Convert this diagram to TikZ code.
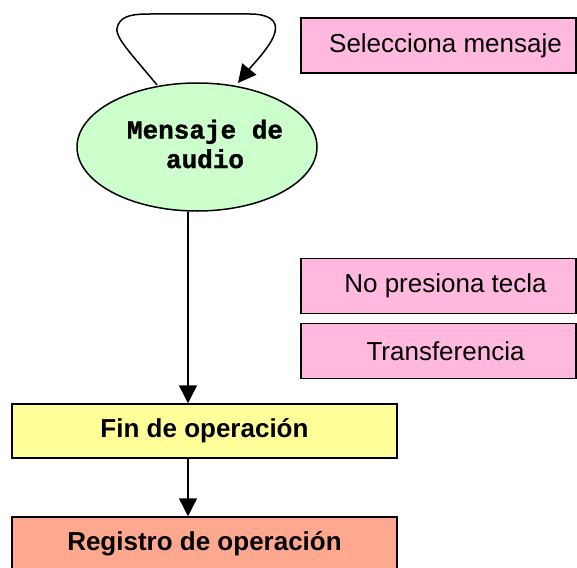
\documentclass[tikz,border=0pt]{standalone}
\usepackage{fontspec}
\setmainfont{Liberation Sans}
\newfontfamily\monob[FakeBold=1.2]{Liberation Mono Bold}
\usetikzlibrary{arrows.meta,shapes.geometric}
\definecolor{pinkbox}{HTML}{FFB8DE}
\definecolor{greenell}{HTML}{CCFFCC}
\definecolor{yellowbox}{HTML}{FFFF99}
\definecolor{salmonbox}{HTML}{FFA890}
\begin{document}
\begin{tikzpicture}[x=1pt,y=-1pt,
  every path/.style={line width=1.5pt},
  pinkstyle/.style={draw=black,fill=pinkbox,line width=1.5pt,minimum width=275pt,minimum height=55pt,inner sep=0pt,font=\fontsize{26}{29}\selectfont},
  boldbox/.style={draw=black,line width=1.5pt,minimum width=385pt,minimum height=54pt,inner sep=0pt,font=\fontsize{26}{29}\selectfont\bfseries},
  arr/.style={-{Triangle[length=18pt,width=18pt]},line width=1.5pt}]
\useasboundingbox (0,0) rectangle (577,567);
\node[ellipse,draw=black,fill=greenell,line width=1.5pt,minimum width=240pt,minimum height=128pt,inner sep=0pt] (ell) at (197,147) {};
\node[align=center,inner sep=0pt,font=\monob\fontsize{26}{29.5}\selectfont] (ellt) at (205,144) {Mensaje de\\ audio};
\node[pinkstyle] (sel) at (438.5,45.5) {\hspace*{14pt}Selecciona mensaje};
\node[pinkstyle] (nop) at (438.5,286) {\hspace*{14pt}No presiona tecla};
\node[pinkstyle] (tra) at (438.5,351) {\hspace*{14pt}Transferencia};
\node[boldbox,fill=yellowbox] (fin) at (204.5,431) {Fin de operación};
\node[boldbox,fill=salmonbox] (reg) at (204.5,544) {Registro de operación};
\coordinate (ax) at (188,0);
\coordinate (ls) at (157,85);
\coordinate (lt) at (238,83);
\draw[arr] (ls) .. controls (130,52) and (112,35) .. (118,25) .. controls (122,15) and (135,14) .. (150,14) -- (250,14) .. controls (268,14) and (278,20) .. (275,32) .. controls (272,45) and (255,62) .. (lt);
\draw[arr] (ell.south -| ax) -- (fin.north -| ax);
\draw[arr] (fin.south -| ax) -- (reg.north -| ax);
\end{tikzpicture}
\end{document}
